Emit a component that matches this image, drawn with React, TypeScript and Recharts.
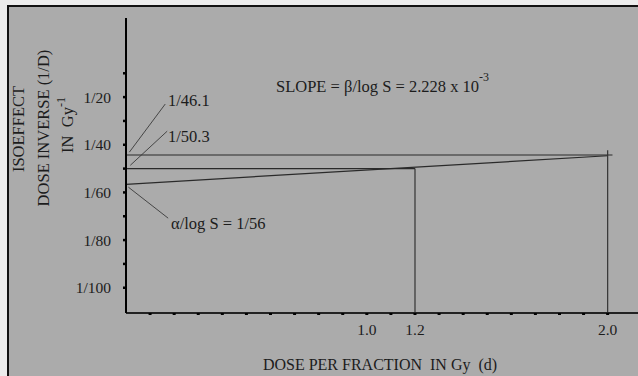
import { Line, LineChart, XAxis, YAxis } from "recharts";

// dose per fraction d (Gy) ticks, only some carry labels
const doseTicks = [
  0.1, 0.2, 0.3, 0.4, 0.5, 0.6, 0.7, 0.8, 0.9, 1.0, 1.1, 1.2, 1.3, 1.4, 1.5,
  1.6, 1.7, 1.8, 1.9, 2.0,
];
const doseLabels = [1.0, 1.2, 2.0];

// isoeffect dose D, axis labelled 1/D
const inverseTicks = [10, 20, 30, 40, 50, 60, 70, 80, 90, 100];
const inverseLabels = [20, 40, 60, 80, 100];

// series (d, D)
const isoeffectLine = [
  { d: 0, D: 56.6 },
  { d: 2.0, D: 44.6 },
];
const upperLevel = [
  { d: 0, D: 44.3 },
  { d: 2.02, D: 44.3 },
];
const midLevel = [
  { d: 0, D: 50 },
  { d: 1.2, D: 50 },
];
const drop12 = [
  { d: 1.2, D: 50 },
  { d: 1.2, D: 110.6 },
];
const drop20 = [
  { d: 2.0, D: 42.3 },
  { d: 2.0, D: 110.6 },
];

// leader lines for the annotations
const leader461 = [
  { d: 0.014, D: 43.1 },
  { d: 0.163, D: 22.9 },
];
const leader503 = [
  { d: 0.018, D: 48.6 },
  { d: 0.171, D: 34.3 },
];
const leader56 = [
  { d: 0.01, D: 57.8 },
  { d: 0.175, D: 70.8 },
];

const FONT = "'Liberation Serif', 'Times New Roman', serif";
const INK = "#1c1c1c";

export default function App() {
  const lines = [
    { key: "iso", data: isoeffectLine, color: "#2a2a2a", w: 1.2 },
    { key: "upper", data: upperLevel, color: "#2a2a2a", w: 1.2 },
    { key: "mid", data: midLevel, color: "#2a2a2a", w: 1.2 },
    { key: "d12", data: drop12, color: "#333", w: 1.2 },
    { key: "d20", data: drop20, color: "#333", w: 1.2 },
    { key: "l1", data: leader461, color: "#3a3a3a", w: 0.9 },
    { key: "l2", data: leader503, color: "#3a3a3a", w: 0.9 },
    { key: "l3", data: leader56, color: "#3a3a3a", w: 0.9 },
  ];

  return (
    <div
      style={{
        position: "relative",
        width: 638,
        height: 376,
        background: "#ececec",
        fontFamily: FONT,
      }}
    >
      <style>{"body{margin:0}"}</style>
      <div
        style={{
          position: "absolute",
          left: 7,
          top: 5,
          width: 631,
          height: 371,
          boxSizing: "border-box",
          background: "#ababab",
          borderTop: "2px solid #111",
          borderLeft: "2px solid #111",
        }}
      />
      <LineChart
        width={638}
        height={376}
        margin={{ top: 18, right: 0, bottom: 33, left: 0 }}
        style={{ position: "absolute", left: 0, top: 0 }}
      >
        <XAxis
          dataKey="d"
          type="number"
          domain={[0, 2.126]}
          allowDataOverflow
          ticks={doseTicks}
          interval={0}
          height={30}
          tickFormatter={(v: number) =>
            doseLabels.includes(v) ? v.toFixed(1) : ""
          }
          axisLine={{ stroke: "#222", strokeWidth: 2 }}
          tickLine={{ stroke: "#000", strokeWidth: 3 }}
          tickSize={2}
          tickMargin={9}
          tick={{ fontSize: 15.5, fill: INK, fontFamily: FONT }}
        />
        <YAxis
          dataKey="D"
          type="number"
          reversed
          domain={[-13.2, 110.6]}
          allowDataOverflow
          ticks={inverseTicks}
          interval={0}
          width={126}
          tickFormatter={(v: number) =>
            inverseLabels.includes(v) ? `1/${v}` : ""
          }
          axisLine={{ stroke: "#000", strokeWidth: 2 }}
          tickLine={{ stroke: "#000", strokeWidth: 2.5 }}
          tickSize={3}
          tickMargin={12}
          tick={{ fontSize: 15.5, fill: INK, fontFamily: FONT }}
        />
        {lines.map((l) => (
          <Line
            key={l.key}
            data={l.data}
            dataKey="D"
            type="linear"
            stroke={l.color}
            strokeWidth={l.w}
            dot={false}
            activeDot={false}
            isAnimationActive={false}
          />
        ))}
      </LineChart>
      <svg
        width={638}
        height={376}
        style={{ position: "absolute", left: 0, top: 0, pointerEvents: "none" }}
        fontFamily={FONT}
        fill={INK}
        fontSize={16.5}
      >
        <g textAnchor="middle" dominantBaseline="central">
          <text transform="translate(18,129) rotate(-90)">ISOEFFECT</text>
          <text transform="translate(43,128) rotate(-90)">
            DOSE INVERSE (1/D)
          </text>
          <text transform="translate(67,125) rotate(-90)">
            {"IN\u00a0 Gy"}
            <tspan dy={-6} fontSize={12}>
              -1
            </tspan>
          </text>
        </g>
        <g dominantBaseline="central">
          <text x={168} y={100}>1/46.1</text>
          <text x={168} y={136}>1/50.3</text>
          <text x={171} y={223}>{"α/log S = 1/56"}</text>
          <text x={276} y={86}>
            {"SLOPE = β/log S = 2.228 x 10"}
            <tspan dy={-9} fontSize={12}>
              -3
            </tspan>
          </text>
          <text x={380} y={364} textAnchor="middle" fontSize={16}>
            {"DOSE PER FRACTION\u00a0 IN Gy\u00a0 (d)"}
          </text>
        </g>
      </svg>
    </div>
  );
}
